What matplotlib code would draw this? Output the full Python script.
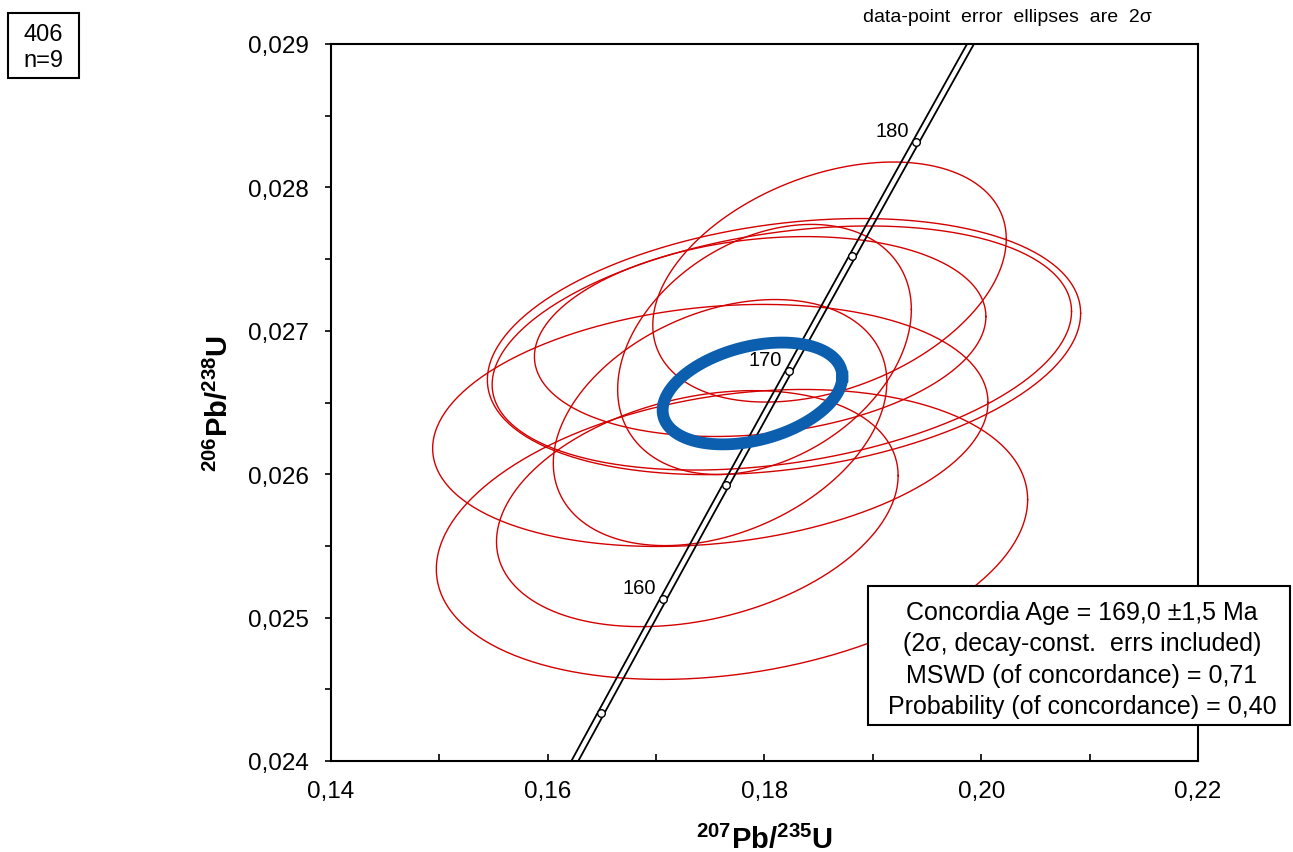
import numpy as np
import matplotlib.pyplot as plt
from matplotlib.patches import Rectangle
from matplotlib.ticker import FixedLocator, FixedFormatter

plt.rcParams['font.family'] = ['Liberation Sans', 'DejaVu Sans']
plt.rcParams['mathtext.fontset'] = 'custom'
plt.rcParams['mathtext.rm'] = 'Liberation Sans'
plt.rcParams['mathtext.bf'] = 'Liberation Sans:bold'
plt.rcParams['mathtext.it'] = 'Liberation Sans:italic'

# data-point ellipses (centre, 2 sigma half-widths, error correlation)
x207 = [0.1860, 0.1818, 0.1816, 0.1796, 0.1750, 0.1770, 0.1738, 0.1759, 0.1800]
x207_err = [0.01631, 0.02737, 0.02673, 0.02083, 0.02562, 0.02728, 0.01853, 0.01539, 0.01355]
y206 = [0.02734, 0.02689, 0.02688, 0.02696, 0.02634, 0.02558, 0.02576, 0.02636, 0.02687]
y206_err = [0.000837, 0.000893, 0.000851, 0.000697, 0.000844, 0.001011, 0.000823, 0.000858, 0.000872]
rho = [0.36, 0.26, 0.30, 0.20, 0.19, 0.24, 0.28, 0.33, 0.32]

# concordia age ellipse
age_x, age_xerr = 0.17889, 0.00829
age_y, age_yerr = 0.026563, 0.000355
age_rho = 0.33

# decay constants (1/yr)
l238 = 1.55125e-10
l235 = 9.8485e-10
marker_ages = [155, 160, 165, 170, 175, 180]
label_ages = [160, 170, 180]
band = 0.00032

x_ticks = [0.14, 0.16, 0.18, 0.20, 0.22]
x_labels = ['0,14', '0,16', '0,18', '0,20', '0,22']
y_ticks = [0.024, 0.025, 0.026, 0.027, 0.028, 0.029]
y_labels = ['0,024', '0,025', '0,026', '0,027', '0,028', '0,029']


def ellipse(cx, sx, cy, sy, r, n=300):
    th = np.linspace(0, 2 * np.pi, n)
    return cx + sx * np.cos(th), cy + sy * (r * np.cos(th) + np.sqrt(1 - r * r) * np.sin(th))


W, H = 1293, 853
fig = plt.figure(figsize=(W / 100, H / 100), dpi=100)
ax = fig.add_axes([331 / W, 1 - 762 / H, 867 / W, 717 / H])

for i in range(len(x207)):
    ex, ey = ellipse(x207[i], x207_err[i], y206[i], y206_err[i], rho[i])
    ax.plot(ex, ey, color='#d40000', lw=1.0, zorder=2)

# concordia curve drawn as a narrow band
t = np.linspace(140, 195, 400) * 1e6
cx = np.exp(l235 * t) - 1
cy = np.exp(l238 * t) - 1
ax.plot(cx - band, cy, color='black', lw=1.3, zorder=3)
ax.plot(cx + band, cy, color='black', lw=1.3, zorder=3)

ta = np.array(marker_ages) * 1e6
ax.plot(np.exp(l235 * ta) - 1, np.exp(l238 * ta) - 1, 'o', ms=5.5, mfc='white',
        mec='black', mew=1.0, zorder=4)
for a in label_ages:
    px = np.exp(l235 * a * 1e6) - 1
    py = np.exp(l238 * a * 1e6) - 1
    ax.annotate(str(a), (px, py), xytext=(-5, 8), textcoords='offset points',
                ha='right', va='center', fontsize=14.5, zorder=5)

bx, by = ellipse(age_x, age_xerr, age_y, age_yerr, age_rho)
ax.plot(bx, by, color='#0b5fae', lw=8.5, zorder=6)

ax.set_xlim(0.14, 0.22)
ax.set_ylim(0.024, 0.029)
ax.xaxis.set_major_locator(FixedLocator(x_ticks))
ax.xaxis.set_major_formatter(FixedFormatter(x_labels))
ax.yaxis.set_major_locator(FixedLocator(y_ticks))
ax.yaxis.set_major_formatter(FixedFormatter(y_labels))
ax.set_xticks([0.15, 0.17, 0.19, 0.21], minor=True)
ax.set_yticks([0.0245, 0.0255, 0.0265, 0.0275, 0.0285], minor=True)
ax.tick_params(axis='x', which='both', direction='in', length=5, width=1.2,
               labelsize=17.5, pad=14)
ax.tick_params(axis='y', which='both', direction='out', length=4, width=1.2,
               labelsize=17.5, pad=12)
for s in ax.spines.values():
    s.set_linewidth(1.5)

ax.set_xlabel(r'$\mathbf{^{207}Pb/^{235}U}$', fontsize=21, labelpad=16)
ax.set_ylabel(r'$\mathbf{^{206}Pb/^{238}U}$', fontsize=21, labelpad=10)

fig.text(1007 / W, 1 - 18 / H, 'data-point  error  ellipses  are  2σ', fontsize=14,
         ha='center', va='center')

# sample box, top left
fig.patches.append(Rectangle((8 / W, 1 - 79 / H), 71 / W, 65 / H, transform=fig.transFigure,
                             fc='white', ec='black', lw=1.5))
fig.text(43 / W, 1 - 48 / H, '406\nn=9', fontsize=17, ha='center', va='center',
         linespacing=1.25)

# result box
legend_txt = ('Concordia Age = 169,0 ±1,5 Ma\n(2σ, decay-const.  errs included)\n'
              'MSWD (of concordance) = 0,71\nProbability (of concordance) = 0,40')
fig.patches.append(Rectangle((868 / W, 1 - 726 / H), 422 / W, 139 / H, transform=fig.transFigure,
                             fc='white', ec='black', lw=1.5, zorder=9))
fig.text(1082 / W, 1 - 660 / H, legend_txt, fontsize=18, ha='center', va='center',
         linespacing=1.38, zorder=10)

fig.savefig('out.png', dpi=100)
